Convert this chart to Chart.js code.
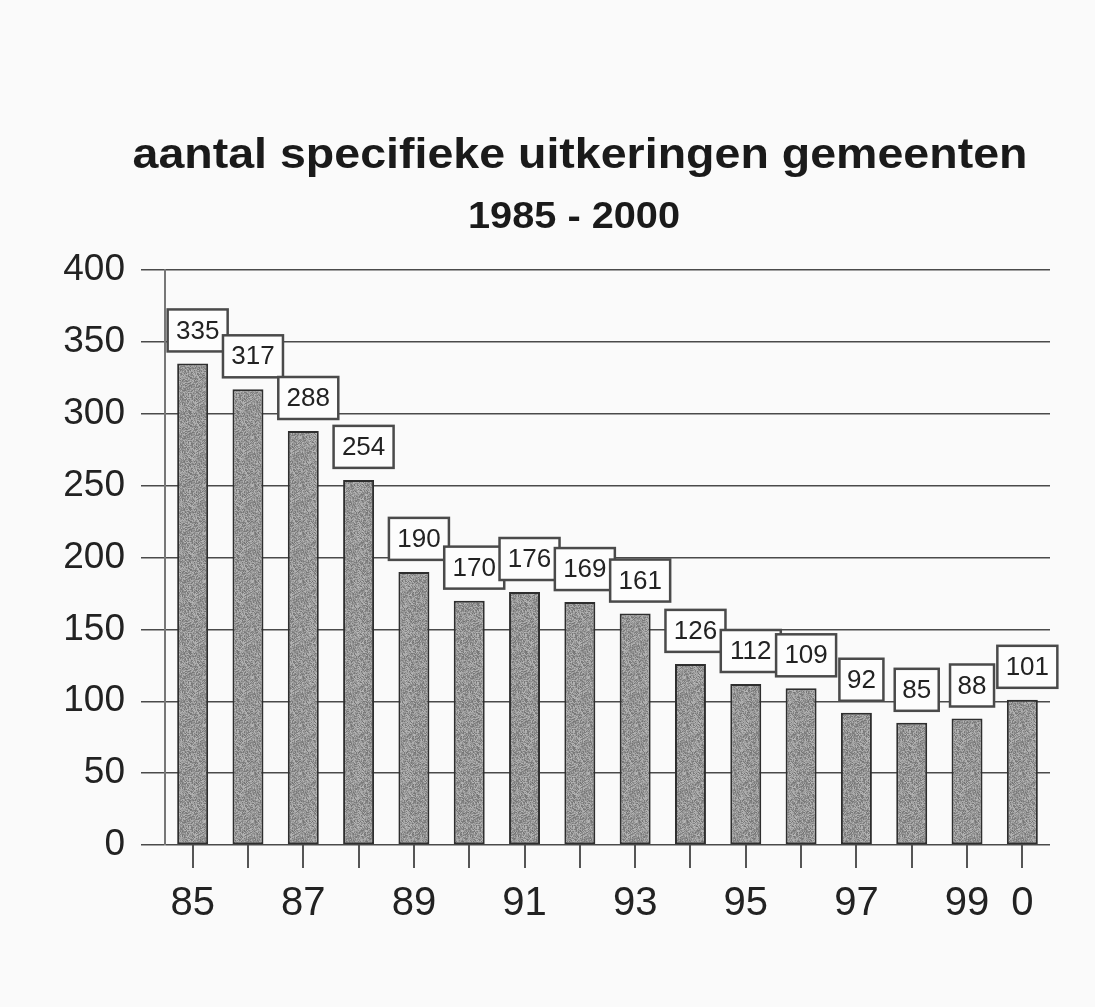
<!DOCTYPE html>
<html>
<head>
<meta charset="utf-8">
<script src="https://cdn.jsdelivr.net/npm/chart.js@4.4.1/dist/chart.umd.min.js"></script>
<style>
  html, body { margin: 0; padding: 0; background: #fafafa; }
  #wrap { width: 1095px; height: 1007px; position: relative; }
</style>
</head>
<body>
<div id="wrap"><canvas id="chart"></canvas></div>
<script>
// jaren 1985 - 2000
const years      = ['85','86','87','88','89','90','91','92','93','94','95','96','97','98','99','0'];
const tickLabels = ['85','','87','','89','','91','','93','','95','','97','','99','0'];
const aantal     = [335, 317, 288, 254, 190, 170, 176, 169, 161, 126, 112, 109, 92, 85, 88, 101];
const yTicks     = [0, 50, 100, 150, 200, 250, 300, 350, 400];

const titel    = 'aantal specifieke uitkeringen gemeenten';
const subtitel = '1985 - 2000';

const FONT = '"Liberation Sans", Arial, sans-serif';

// grijze gespikkelde vulling (deterministisch)
function speckle() {
  const c = document.createElement('canvas');
  c.width = 48; c.height = 48;
  const g = c.getContext('2d');
  const img = g.createImageData(48, 48);
  for (let i = 0; i < 48 * 48; i++) {
    let h = (i * 2654435761) >>> 0;
    h = ((h ^ (h >>> 13)) * 1274126177) >>> 0;
    const v = 115 + (h % 70);
    img.data[i * 4] = v; img.data[i * 4 + 1] = v; img.data[i * 4 + 2] = v; img.data[i * 4 + 3] = 255;
  }
  g.putImageData(img, 0, 0);
  return g.createPattern(c, 'repeat');
}

// titel iets breed uitgerekt, zoals op de scan
function stretchText(ctx, txt, cx, cy, size, width) {
  ctx.save();
  ctx.font = 'bold ' + size + 'px ' + FONT;
  const w = ctx.measureText(txt).width;
  ctx.translate(cx, cy);
  ctx.scale(width / w, 1);
  ctx.textAlign = 'center';
  ctx.textBaseline = 'middle';
  ctx.fillStyle = '#1a1a1a';
  ctx.fillText(txt, 0, 0);
  ctx.restore();
}

const titles = {
  id: 'titles',
  afterDraw(chart) {
    stretchText(chart.ctx, titel, 580, 156, 43, 895);
    stretchText(chart.ctx, subtitel, 574, 218, 37, 212);
  }
};

// waardes in kaders boven de staven
const boxLabels = {
  id: 'boxLabels',
  afterDatasetsDraw(chart) {
    const ctx = chart.ctx;
    const meta = chart.getDatasetMeta(0);
    ctx.save();
    ctx.font = '26px ' + FONT;
    ctx.textAlign = 'center';
    ctx.textBaseline = 'middle';
    meta.data.forEach((bar, i) => {
      const txt = String(aantal[i]);
      const w = txt.length > 2 ? 60 : 44;
      const h = 42;
      const cx = bar.x + 5;
      const bottom = bar.y - 12;
      ctx.fillStyle = '#fdfdfd';
      ctx.fillRect(cx - w / 2, bottom - h, w, h);
      ctx.strokeStyle = '#4a4a4a';
      ctx.lineWidth = 2.5;
      ctx.strokeRect(cx - w / 2, bottom - h, w, h);
      ctx.fillStyle = '#222';
      ctx.fillText(txt, cx, bottom - h / 2 + 1);
    });
    ctx.restore();
  }
};

new Chart(document.getElementById('chart'), {
  type: 'bar',
  data: {
    labels: years,
    datasets: [{
      data: aantal,
      backgroundColor: speckle(),
      borderColor: '#2e2e2e',
      borderWidth: 2,
      borderSkipped: false,
      barPercentage: 0.56,
      categoryPercentage: 1.0
    }]
  },
  options: {
    responsive: true,
    maintainAspectRatio: false,
    animation: false,
    layout: { padding: { left: 0, right: 45, top: 270, bottom: 62 } },
    plugins: {
      legend: { display: false },
      tooltip: { enabled: false },
      title: { display: false }
    },
    scales: {
      x: {
        afterFit: s => { s.height = 100; },
        border: { display: false },
        grid: { offset: false, drawOnChartArea: false, drawTicks: true, tickLength: 23, color: '#555', lineWidth: 2 },
        ticks: {
          autoSkip: false, maxRotation: 0, padding: 12,
          color: '#222', font: { family: FONT, size: 40 },
          callback: (v, i) => tickLabels[i]
        }
      },
      y: {
        min: 0, max: 400,
        afterFit: s => { s.width = 165; },
        afterBuildTicks: s => { s.ticks = yTicks.map(v => ({ value: v })); },
        border: { display: true, color: '#777', width: 2 },
        grid: { color: '#4a4a4a', lineWidth: 1.5, tickLength: 24, borderDash: [12, 3] },
        ticks: { color: '#222', padding: 16, font: { family: FONT, size: 37 } }
      }
    }
  },
  plugins: [boxLabels, titles]
});
</script>
</body>
</html>
